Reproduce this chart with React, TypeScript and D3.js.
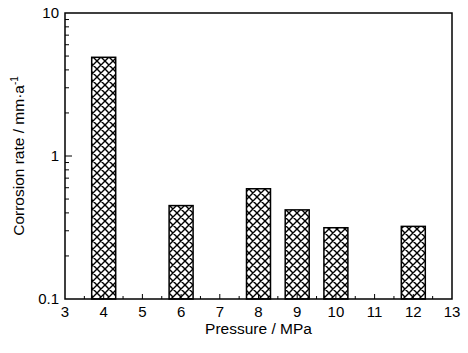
import { useEffect, useRef } from "react";
import * as d3 from "d3";

const pressures = [4, 6, 8, 9, 10, 12];
const rates = [4.9, 0.45, 0.59, 0.42, 0.315, 0.322];
const xTicks = [3, 4, 5, 6, 7, 8, 9, 10, 11, 12, 13];
const yTicks = [0.1, 1, 10];

export default function App() {
  const svgRef = useRef<SVGSVGElement>(null);

  useEffect(() => {
    if (!svgRef.current) return;
    const width = 468;
    const height = 353;
    const margin = { top: 13, right: 16, bottom: 54, left: 65 };
    const innerWidth = width - margin.left - margin.right;
    const innerHeight = height - margin.top - margin.bottom;

    const svg = d3.select(svgRef.current);
    svg.selectAll("*").remove();

    // crosshatch fill
    const pat = svg
      .append("defs")
      .append("pattern")
      .attr("id", "hatch")
      .attr("patternUnits", "userSpaceOnUse")
      .attr("width", 8)
      .attr("height", 8);
    pat.append("rect").attr("width", 8).attr("height", 8).attr("fill", "#fff");
    pat
      .append("path")
      .attr("d", "M0,0L8,8M0,8L8,0M-1,1L1,-1M7,9L9,7M-1,7L1,9M7,-1L9,1")
      .attr("stroke", "#000")
      .attr("stroke-width", 1.4);

    const g = svg.append("g").attr("transform", `translate(${margin.left},${margin.top})`);

    const x = d3.scaleLinear().domain([3, 13]).range([0, innerWidth]);
    const y = d3.scaleLog().domain([0.1, 10]).range([innerHeight, 0]);
    const barW = x(3.62) - x(3);

    // Bars
    g.selectAll(".bar")
      .data(pressures.map((p, i) => ({ p, v: rates[i] })))
      .enter()
      .append("rect")
      .attr("class", "bar")
      .attr("x", (d) => x(d.p) - barW / 2)
      .attr("y", (d) => y(d.v))
      .attr("width", barW)
      .attr("height", (d) => innerHeight - y(d.v))
      .attr("fill", "url(#hatch)")
      .attr("stroke", "#000")
      .attr("stroke-width", 1.5);

    // Ticks (inward)
    const minorX = d3.range(3.5, 13, 1);
    g.selectAll(".xmaj")
      .data(xTicks.slice(1, -1))
      .enter()
      .append("line")
      .attr("x1", (d) => x(d))
      .attr("x2", (d) => x(d))
      .attr("y1", innerHeight)
      .attr("y2", innerHeight - 5)
      .attr("stroke", "#000");
    g.selectAll(".xmin")
      .data(minorX)
      .enter()
      .append("line")
      .attr("x1", (d) => x(d))
      .attr("x2", (d) => x(d))
      .attr("y1", innerHeight)
      .attr("y2", innerHeight - 3)
      .attr("stroke", "#000");

    const minorY: number[] = [];
    [0.1, 1].forEach((b) => {
      for (let k = 2; k <= 9; k++) minorY.push(b * k);
    });
    g.selectAll(".ymin")
      .data(minorY)
      .enter()
      .append("line")
      .attr("x1", 0)
      .attr("x2", 4)
      .attr("y1", (d) => y(d))
      .attr("y2", (d) => y(d))
      .attr("stroke", "#000");
    g.append("line")
      .attr("x1", 0)
      .attr("x2", 7)
      .attr("y1", y(1))
      .attr("y2", y(1))
      .attr("stroke", "#000");

    // Frame
    g.append("rect")
      .attr("width", innerWidth)
      .attr("height", innerHeight)
      .attr("fill", "none")
      .attr("stroke", "#000")
      .attr("stroke-width", 1.5);

    // Tick labels
    g.selectAll(".xl")
      .data(xTicks)
      .enter()
      .append("text")
      .attr("x", (d) => x(d))
      .attr("y", innerHeight + 18)
      .attr("text-anchor", "middle")
      .attr("font-size", 15)
      .text((d) => d);
    g.selectAll(".yl")
      .data(yTicks)
      .enter()
      .append("text")
      .attr("x", -6)
      .attr("y", (d) => y(d) + 5)
      .attr("text-anchor", "end")
      .attr("font-size", 15)
      .text((d) => d);

    // Axis titles
    g.append("text")
      .attr("x", innerWidth / 2)
      .attr("y", innerHeight + 35)
      .attr("text-anchor", "middle")
      .attr("font-size", 15.5)
      .text("Pressure / MPa");

    const yt = g
      .append("text")
      .attr("transform", `translate(-41,${innerHeight / 2}) rotate(-90)`)
      .attr("text-anchor", "middle")
      .attr("font-size", 15.5);
    yt.append("tspan").text("Corrosion rate / mm·a");
    yt.append("tspan").attr("dy", -6).attr("font-size", 10).text("-1");
  }, []);

  return (
    <svg
      ref={svgRef}
      width={468}
      height={353}
      style={{ position: "absolute", left: 0, top: 0, background: "#fff", fontFamily: "Arial, 'Liberation Sans', sans-serif" }}
    />
  );
}
